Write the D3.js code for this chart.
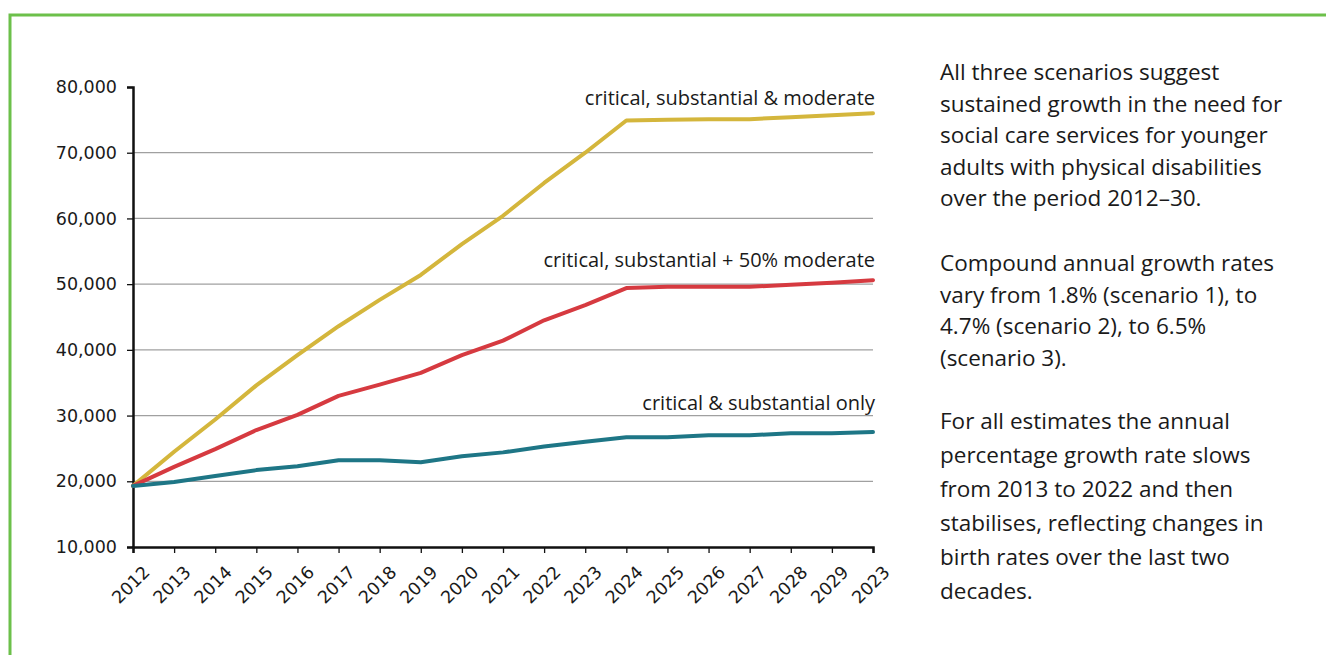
<!DOCTYPE html>
<html>
<head>
<meta charset="utf-8">
<script src="https://cdn.jsdelivr.net/npm/d3@7"></script>
<style>
body { margin: 0; background: #fff; }
svg text { font-family: "Open Sans", sans-serif; fill: #1a1a1a; }
</style>
</head>
<body>
<div id="container"></div>
<script>
// years along the x axis (last label reads 2023 in the source)
var years = ["2012","2013","2014","2015","2016","2017","2018","2019","2020","2021","2022","2023","2024","2025","2026","2027","2028","2029","2023 "];

var moderate = [19300,24500,29400,34600,39200,43600,47600,51400,56100,60400,65400,70000,74900,75000,75100,75100,75400,75700,76000];
var halfModerate = [19300,22200,24900,27800,30100,33000,34700,36500,39200,41400,44500,46800,49400,49600,49600,49600,49900,50200,50600];
var substantialOnly = [19300,19900,20800,21700,22300,23200,23200,22900,23800,24400,25300,26000,26700,26700,27000,27000,27300,27300,27500];

var seriesNames = ["critical, substantial & moderate","critical, substantial + 50% moderate","critical & substantial only"];
var yTicks = [10000,20000,30000,40000,50000,60000,70000,80000];

var para1 = ["All three scenarios suggest","sustained growth in the need for","social care services for younger","adults with physical disabilities","over the period 2012\u201330."];
var para2 = ["Compound annual growth rates","vary from 1.8% (scenario 1), to","4.7% (scenario 2), to 6.5%","(scenario 3)."];
var para3 = ["For all estimates the annual","percentage growth rate slows","from 2013 to 2022 and then","stabilises, reflecting changes in","birth rates over the last two","decades."];

var w = 1326, h = 655;
var mLeft = 133, mRight = 873, mTop = 87, mBottom = 547;

var svg = d3.select("#container").append("svg").attr("width",w).attr("height",h);

// green frame
svg.append("rect")
	.attr("x",10).attr("y",15)
	.attr("width",w).attr("height",h)
	.attr("fill","none")
	.attr("stroke","#6cc04a")
	.attr("stroke-width",3);

var x = d3.scalePoint().domain(years).range([mLeft,mRight]);
var y = d3.scaleLinear().domain([10000,80000]).range([mBottom,mTop]);

// gridlines
svg.selectAll(".grid")
	.data(yTicks.filter(function(d){ return d>10000 && d<80000; }))
	.enter()
	.append("line")
	.attr("class","grid")
	.attr("x1",mLeft).attr("x2",mRight)
	.attr("y1",function(d){ return y(d); })
	.attr("y2",function(d){ return y(d); })
	.attr("stroke","#a0a0a0")
	.attr("stroke-width",1.3);

var yAxis = svg.append("g")
	.attr("transform","translate("+mLeft+",0)")
	.call(d3.axisLeft(y).tickValues(yTicks).tickSize(6).tickPadding(10).tickFormat(d3.format(",")));
var xAxis = svg.append("g")
	.attr("transform","translate(0,"+mBottom+")")
	.call(d3.axisBottom(x).tickSize(6).tickFormat(function(d){ return d.trim(); }));

svg.selectAll(".domain").attr("stroke","#111").attr("stroke-width",2.5);
svg.selectAll(".tick line").attr("stroke","#111").attr("stroke-width",1.3);
yAxis.selectAll("text").style("font-family","'DejaVu Sans', sans-serif").style("font-size","17.5px").attr("fill","#1a1a1a");
xAxis.selectAll("text")
	.style("font-family","'DejaVu Sans', sans-serif").style("font-size","17.5px").attr("fill","#1a1a1a")
	.attr("text-anchor","end")
	.attr("dy",null)
	.attr("transform","translate(11,20) rotate(-45)");

var line = d3.line()
	.x(function(d,i){ return x(years[i]); })
	.y(function(d){ return y(d); });

var series = [moderate, halfModerate, substantialOnly];
var colors = ["#d4b63c","#d63a40","#1e7686"];

svg.selectAll(".series")
	.data(series)
	.enter()
	.append("path")
	.attr("class","series")
	.attr("d",line)
	.attr("fill","none")
	.attr("stroke",function(d,i){ return colors[i]; })
	.attr("stroke-width",4)
	.attr("stroke-linejoin","round")
	.attr("stroke-linecap","round");

// series labels, right aligned above each line end
var labelY = [105,267,410];
svg.selectAll(".slabel")
	.data(seriesNames)
	.enter()
	.append("text")
	.attr("class","slabel")
	.attr("x",875)
	.attr("y",function(d,i){ return labelY[i]; })
	.attr("text-anchor","end")
	.style("font-size","20px")
	.text(function(d){ return d; });

// side notes
function para(lines, y0, lh){
	svg.append("g").selectAll("text")
		.data(lines)
		.enter()
		.append("text")
		.attr("x",940)
		.attr("y",function(d,i){ return y0+i*lh; })
		.style("font-size","22.5px")
		.text(function(d){ return d; });
}
para(para1,80,31.5);
para(para2,271,31.5);
para(para3,429,34);
</script>
</body>
</html>
